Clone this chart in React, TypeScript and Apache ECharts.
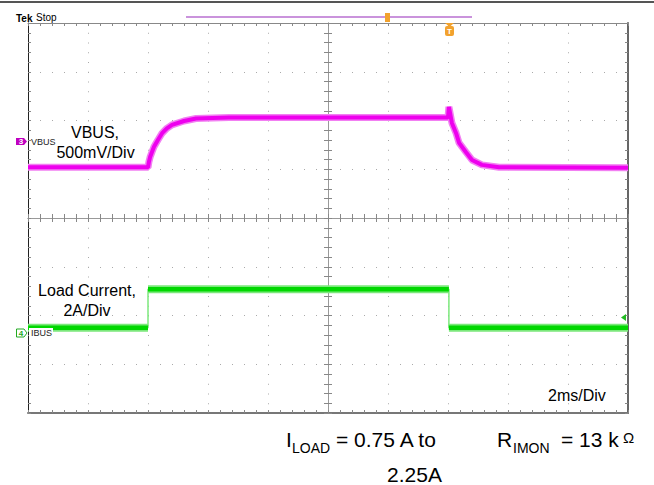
import React, { useEffect, useRef } from "react";
import * as echarts from "echarts";

// Time relative to screen centre (ms), 2 ms / division, 10 divisions
const xMinMs = -10;
const xMaxMs = 10;
const xDivMs = 2;
// Vertical position in divisions from screen centre, 8 divisions
const yMinDiv = -4;
const yMaxDiv = 4;

// Channel 3: VBUS (500 mV/div), position in divisions
const vbusTimeMs = [-10, -6.0, -5.97, -5.93, -5.87, -5.8, -5.67, -5.53, -5.37, -5.2, -4.8, -4.4, -3.3, 4.0, 4.03, 4.13, 4.27, 4.37, 4.6, 4.8, 5.13, 5.7, 10];
const vbusDiv = [1.04, 1.04, 1.15, 1.25, 1.35, 1.46, 1.6, 1.74, 1.84, 1.91, 1.99, 2.04, 2.06, 2.06, 2.28, 1.95, 1.74, 1.54, 1.35, 1.19, 1.09, 1.04, 1.03];

// Channel 4: IBUS load current (2 A/div), position in divisions
const ibusTimeMs = [-10, -6.0, -6.0, 4.03, 4.03, 10];
const ibusDiv = [-2.25, -2.25, -1.46, -1.46, -2.25, -2.25];

const FONT = '"Liberation Sans", Arial, sans-serif';
const MAGENTA = "#ee00ee";
const MAGENTA_HALO = "#f27ff2";
const GREEN = "#00d800";
const GREEN_HALO = "#7ce87c";
const ORANGE = "#f2a22e";

function txt(x: number, y: number, text: string, size: number, opts: any = {}) {
  return {
    type: "text",
    x,
    y,
    z: 110,
    style: {
      text,
      font: `${opts.weight || "normal"} ${size}px ${FONT}`,
      fill: opts.fill || "#000",
      align: opts.align || "left",
      textAlign: opts.align || "left",
      verticalAlign: "middle",
      textVerticalAlign: "middle",
    },
  };
}

export default function App() {
  const ref = useRef<HTMLDivElement>(null);

  useEffect(() => {
    if (!ref.current) return;
    const chart = echarts.init(ref.current, null, { renderer: "svg" });

    const vbusData = vbusTimeMs.map((t, i) => [t, vbusDiv[i]]);
    const ibusData = ibusTimeMs.map((t, i) => [t, ibusDiv[i]]);
    // flat (horizontal) parts of the current trace, drawn thick; edges stay thin
    const ibusFlat: any[] = [];
    for (let i = 0; i < ibusTimeMs.length - 1; i++) {
      if (ibusDiv[i] === ibusDiv[i + 1]) {
        ibusFlat.push([ibusTimeMs[i], ibusDiv[i]], [ibusTimeMs[i + 1], ibusDiv[i + 1]], [ibusTimeMs[i + 1], null]);
      }
    }

    const baseX = {
      type: "value",
      min: xMinMs,
      max: xMaxMs,
      interval: xDivMs,
      axisLabel: { show: false },
      splitLine: { show: false },
    };
    const baseY = {
      type: "value",
      min: yMinDiv,
      max: yMaxDiv,
      interval: 1,
      axisLabel: { show: false },
      splitLine: { show: false },
    };
    const tickStyle = { color: "#888", width: 1 };

    const option: any = {
      animation: false,
      backgroundColor: "#ffffff",
      grid: { left: 28, top: 23, width: 600, height: 390, show: false },
      xAxis: [
        {
          ...baseX,
          position: "bottom",
          axisLine: { show: true, onZero: false, lineStyle: { color: "#777", width: 2 } },
          axisTick: { show: true, inside: true, length: 3, lineStyle: tickStyle },
          minorTick: { show: true, splitNumber: 5, length: 3, lineStyle: tickStyle },
          splitLine: { show: true, lineStyle: { color: "#aaa", width: 1, type: [1, 8.75] } },
        },
        {
          ...baseX,
          position: "top",
          axisLine: { show: true, onZero: false, lineStyle: { color: "#888", width: 1 } },
          axisTick: { show: true, inside: true, length: 3, lineStyle: tickStyle },
          minorTick: { show: true, splitNumber: 5, length: 3, lineStyle: tickStyle },
        },
        {
          ...baseX,
          position: "bottom",
          axisLine: { show: true, onZero: true, onZeroAxisIndex: 0, lineStyle: { color: "#999", width: 1 } },
          axisTick: { show: true, inside: true, length: 4, lineStyle: tickStyle },
          minorTick: { show: true, splitNumber: 5, length: 4, lineStyle: tickStyle },
        },
        {
          ...baseX,
          position: "bottom",
          axisLine: { show: true, onZero: true, onZeroAxisIndex: 0, lineStyle: { color: "#999", width: 1 } },
          axisTick: { show: true, inside: false, length: 4, lineStyle: tickStyle },
          minorTick: { show: true, splitNumber: 5, length: 4, lineStyle: tickStyle },
        },
      ],
      yAxis: [
        {
          ...baseY,
          position: "left",
          axisLine: { show: true, onZero: false, lineStyle: { color: "#222", width: 1 } },
          axisTick: { show: true, inside: true, length: 3, lineStyle: tickStyle },
          minorTick: { show: true, splitNumber: 5, length: 3, lineStyle: tickStyle },
          splitLine: { show: true, lineStyle: { color: "#aaa", width: 1, type: [1, 11] } },
        },
        {
          ...baseY,
          position: "right",
          axisLine: { show: true, onZero: false, lineStyle: { color: "#666", width: 2 } },
          axisTick: { show: true, inside: true, length: 3, lineStyle: tickStyle },
          minorTick: { show: true, splitNumber: 5, length: 3, lineStyle: tickStyle },
        },
        {
          ...baseY,
          position: "left",
          axisLine: { show: true, onZero: true, onZeroAxisIndex: 0, lineStyle: { color: "#999", width: 1 } },
          axisTick: { show: true, inside: true, length: 4, lineStyle: tickStyle },
          minorTick: { show: true, splitNumber: 5, length: 4, lineStyle: tickStyle },
        },
        {
          ...baseY,
          position: "left",
          axisLine: { show: true, onZero: true, onZeroAxisIndex: 0, lineStyle: { color: "#999", width: 1 } },
          axisTick: { show: true, inside: false, length: 4, lineStyle: tickStyle },
          minorTick: { show: true, splitNumber: 5, length: 4, lineStyle: tickStyle },
        },
      ],
      series: [
        {
          name: "VBUS halo",
          type: "line",
          data: vbusData,
          showSymbol: false,
          lineStyle: { color: MAGENTA_HALO, width: 7 },
          z: 3,
        },
        {
          name: "VBUS",
          type: "line",
          data: vbusData,
          showSymbol: false,
          lineStyle: { color: MAGENTA, width: 4 },
          z: 4,
        },
        {
          name: "IBUS edges",
          type: "line",
          data: ibusData,
          showSymbol: false,
          lineStyle: { color: GREEN_HALO, width: 1.5 },
          z: 3,
        },
        {
          name: "IBUS halo",
          type: "line",
          data: ibusFlat,
          showSymbol: false,
          connectNulls: false,
          lineStyle: { color: GREEN_HALO, width: 8 },
          z: 3,
        },
        {
          name: "IBUS",
          type: "line",
          data: ibusFlat,
          showSymbol: false,
          connectNulls: false,
          lineStyle: { color: GREEN, width: 4.5 },
          z: 4,
        },
      ],
      graphic: [
        { type: "line", z: 100, shape: { x1: 0, y1: 2, x2: 654, y2: 2 }, style: { stroke: "#555", lineWidth: 2 } },
        txt(16, 18, "Tek", 10, { weight: "bold" }),
        txt(36, 17, "Stop", 10),
        { type: "line", z: 100, shape: { x1: 186, y1: 17, x2: 472, y2: 17 }, style: { stroke: "#b86fd0", lineWidth: 1.5 } },
        { type: "rect", z: 101, shape: { x: 385, y: 13, width: 5, height: 9 }, style: { fill: ORANGE } },
        { type: "polygon", z: 101, shape: { points: [[445, 23], [454, 23], [449.5, 27]] }, style: { fill: ORANGE } },
        { type: "rect", z: 101, shape: { x: 445, y: 26, width: 9, height: 10, r: 2 }, style: { fill: ORANGE } },
        txt(449.5, 31.5, "T", 8, { weight: "bold", fill: "#fff", align: "center" }),
        // channel 3 marker
        { type: "polygon", z: 101, shape: { points: [[16, 138], [24, 138], [27, 141.5], [24, 145], [16, 145]] }, style: { fill: "#c000c0" } },
        txt(21, 141.5, "3", 8, { weight: "bold", fill: "#fff", align: "center" }),
        txt(31, 142, "VBUS", 9, { fill: "#222" }),
        // channel 4 marker
        { type: "rect", z: 100, shape: { x: 29, y: 328, width: 24, height: 9 }, style: { fill: "#fff" } },
        { type: "polygon", z: 101, shape: { points: [[16.5, 329], [24, 329], [27, 333], [24, 337], [16.5, 337]] }, style: { fill: "#fff", stroke: "#22aa22", lineWidth: 1 } },
        txt(21, 333, "4", 8, { weight: "bold", fill: "#22aa22", align: "center" }),
        txt(31, 333, "IBUS", 9, { fill: "#222" }),
        { type: "polygon", z: 101, shape: { points: [[621, 317.5], [626, 314], [626, 321]] }, style: { fill: "#22bb22" } },
        // annotations
        txt(95, 132, "VBUS,", 16, { align: "center" }),
        txt(95.5, 152, "500mV/Div", 16, { align: "center" }),
        txt(87, 290, "Load Current,", 16, { align: "center" }),
        txt(87, 310, "2A/Div", 16, { align: "center" }),
        txt(548, 395, "2ms/Div", 16),
        txt(286, 439, "I", 21),
        txt(292, 448, "LOAD", 14),
        txt(336, 439, "= 0.75 A to", 21),
        txt(442, 474, "2.25A", 21, { align: "right" }),
        txt(497, 439, "R", 21),
        txt(513, 448, "IMON", 14),
        txt(561, 439, "= 13 k", 21),
        txt(623, 437, "Ω", 15),
      ],
    };

    chart.setOption(option);
    return () => chart.dispose();
  }, []);

  return (
    <div
      ref={ref}
      style={{ position: "absolute", left: 0, top: 0, width: 654, height: 485, background: "#fff" }}
    />
  );
}
